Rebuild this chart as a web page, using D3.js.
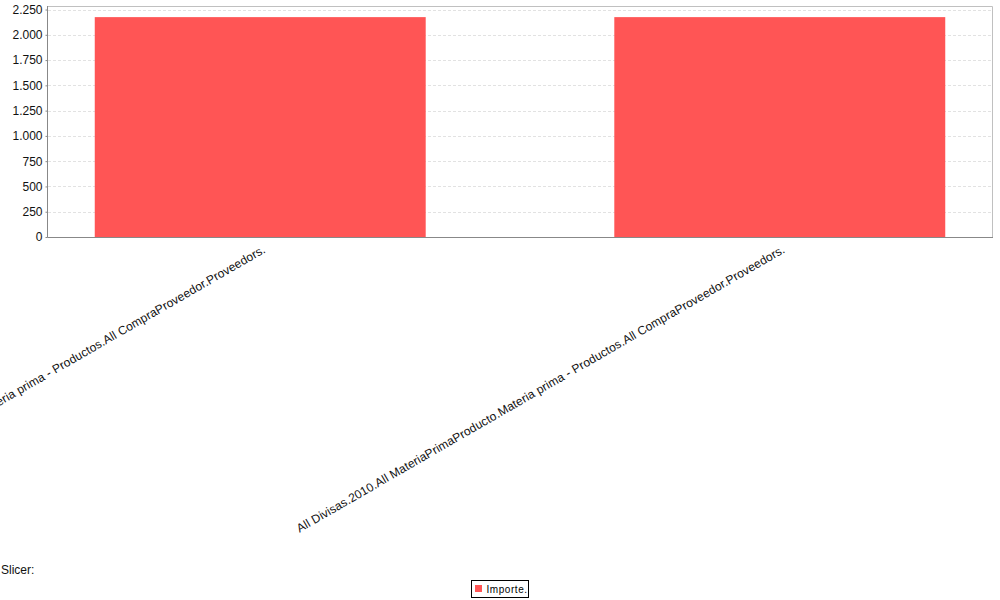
<!DOCTYPE html>
<html>
<head>
<meta charset="utf-8">
<script src="https://cdn.jsdelivr.net/npm/d3@7"></script>
<style>
  html, body { margin: 0; padding: 0; background: #fff; }
  svg { display: block; font-family: "Liberation Sans", Arial, sans-serif; }
</style>
</head>
<body>
<svg id="chart" width="1000" height="600"></svg>
<script>
const categories = [
  "All Divisas.2010.All MateriaPrimaProducto.Materia prima - Productos.All CompraProveedor.Proveedors.",
  "All Divisas.2010.All MateriaPrimaProducto.Materia prima - Productos.All CompraProveedor.Proveedors."
];
const categoryKeys = ["c1", "c2"];
const importeValues = [2175, 2175];
const yTicks = [0, 250, 500, 750, 1000, 1250, 1500, 1750, 2000, 2250];
const seriesName = "Importe.";

const svg = d3.select("#chart");
const plot = { left: 48, top: 6, right: 992, bottom: 237 };

const x = d3.scaleBand()
  .domain(categoryKeys)
  .range([plot.left, plot.right])
  .paddingInner(0.363)
  .paddingOuter(0.09);

const y = d3.scaleLinear()
  .domain([0, 2285])
  .range([plot.bottom, plot.top]);

const fmt = v => d3.format(",")(v).replace(/,/g, ".");

svg.append("rect")
  .attr("x", plot.left).attr("y", plot.top)
  .attr("width", plot.right - plot.left).attr("height", plot.bottom - plot.top)
  .attr("fill", "#fff");

// gridlines
svg.append("g").selectAll("line").data(yTicks.filter(d => d > 0)).join("line")
  .attr("x1", plot.left).attr("x2", plot.right)
  .attr("y1", d => Math.round(y(d)) + 0.5).attr("y2", d => Math.round(y(d)) + 0.5)
  .attr("stroke", "#e2e2e2")
  .attr("stroke-dasharray", "3,2");

// bars
svg.append("g").selectAll("rect").data(importeValues).join("rect")
  .attr("x", (d, i) => x(categoryKeys[i]))
  .attr("width", x.bandwidth())
  .attr("y", d => y(d))
  .attr("height", d => y(0) - y(d))
  .attr("fill", "#ff5555");

// plot outline: top & right light
svg.append("path")
  .attr("d", `M${plot.left},${plot.top + 0.5}H${plot.right + 0.5}V${plot.bottom}`)
  .attr("fill", "none").attr("stroke", "#c0c0c0");

// y axis
const yAxis = d3.axisLeft(y).tickValues(yTicks).tickFormat(fmt).tickSize(2).tickPadding(3);
const gy = svg.append("g").attr("transform", `translate(${plot.left - 0.5},0)`).call(yAxis);
gy.selectAll(".tick line").attr("stroke", "#888");
gy.selectAll(".tick text").attr("fill", "#111").style("font-size", "12px").style("font-family", "'Liberation Sans', Arial, sans-serif");
gy.select(".domain").attr("stroke", "#888").attr("d", `M0,${plot.top}V${plot.bottom + 0.5}`);

// x axis line
svg.append("line")
  .attr("x1", plot.left - 0.5).attr("x2", plot.right + 1)
  .attr("y1", plot.bottom + 0.5).attr("y2", plot.bottom + 0.5)
  .attr("stroke", "#888");

// x labels rotated
svg.append("g").selectAll("text").data(categoryKeys).join("text")
  .attr("transform", (d) => `translate(${x(d) + x.bandwidth() / 2 + 6},252) rotate(-30)`)
  .attr("text-anchor", "end")
  .attr("fill", "#111")
  .style("font-size", "12px")
  .style("letter-spacing", "0.1px")
  .text((d, i) => categories[i]);

// slicer
svg.append("text")
  .attr("x", 1).attr("y", 574)
  .attr("fill", "#111")
  .style("font-size", "12px")
  .text("Slicer:");

// legend
const lg = svg.append("g");
lg.append("rect")
  .attr("x", 471.5).attr("y", 580.5).attr("width", 57).attr("height", 17)
  .attr("fill", "#fff").attr("stroke", "#000");
lg.append("rect")
  .attr("x", 475).attr("y", 585).attr("width", 7).attr("height", 7)
  .attr("fill", "#ff5555");
lg.append("text")
  .attr("x", 486.5).attr("y", 592.5)
  .attr("fill", "#000")
  .style("font-size", "10px")
  .style("letter-spacing", "0.55px")
  .text(seriesName);
</script>
</body>
</html>
